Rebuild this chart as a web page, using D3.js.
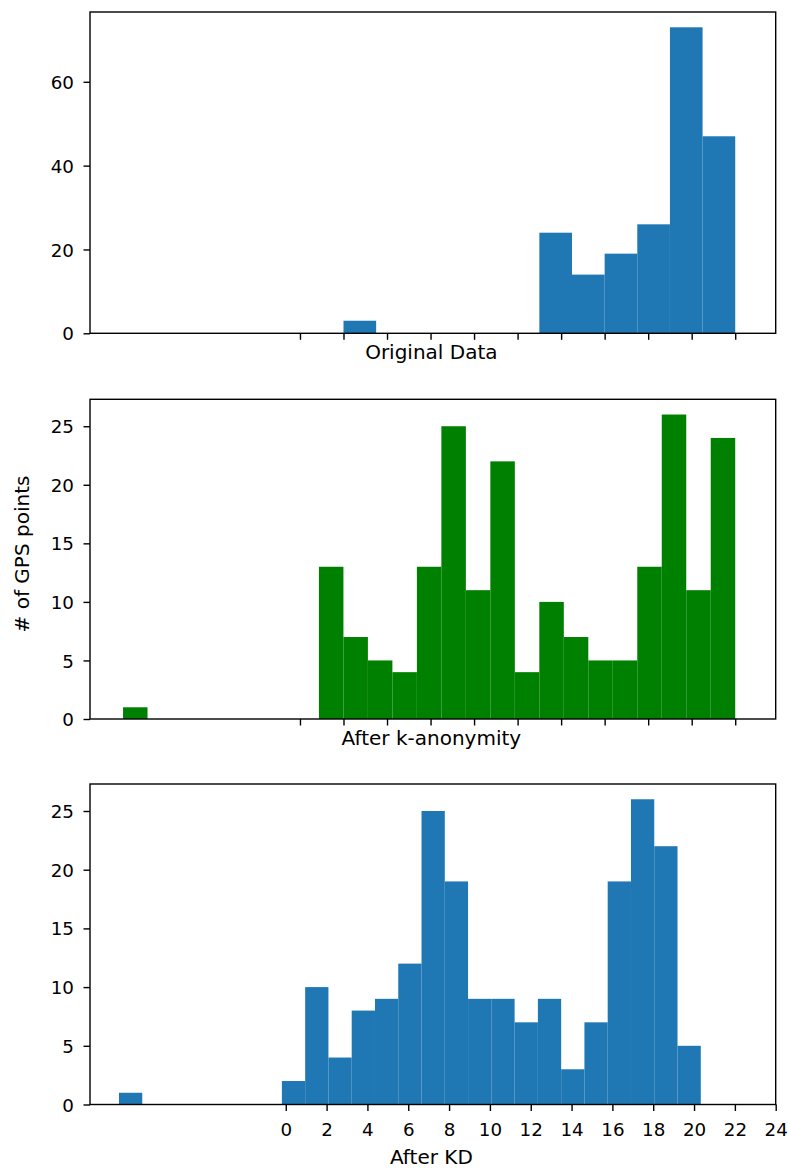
<!DOCTYPE html>
<html><head><meta charset="utf-8">
<script src="https://cdn.jsdelivr.net/npm/d3@7"></script>
<style>body{margin:0;background:#fff} text{font-family:"DejaVu Sans",sans-serif}</style>
</head><body><svg id="c" width="788" height="1169" xmlns="http://www.w3.org/2000/svg"></svg>
<script>
// ---- data ----
const originalCounts = [3,0,0,0,0,0,24,14,19,26,73,47];
const originalRange = [2, 20];
const kanonCounts = [1,0,0,0,0,0,0,0,13,7,5,4,13,25,11,22,4,10,7,5,5,13,26,11,24];
const kanonRange = [-8.13, 20];
const kdCounts = [1,0,0,0,0,0,0,2,10,4,8,9,12,25,19,9,9,7,9,3,7,19,26,22,5];
const kdRange = [-8.17, 20.33];
const sharedXTicks = [0,2,4,6,8,10,12,14,16,18,20];
const kdXTicks = [0,2,4,6,8,10,12,14,16,18,20,22,24];
const originalYTicks = [0,20,40,60];
const countYTicks = [0,5,10,15,20,25];
const panelLabels = ["Original Data", "After k-anonymity", "After KD"];
const yLabel = "# of GPS points";

// ---- layout ----
const FS = 18.3, LFS = 20;
const L = 90, R = 775.7;
const panels = [
  {counts: originalCounts, range: originalRange, color: "#1f77b4", xDomain: [-9.648, 21.86], xTicks: sharedXTicks, showX: false,
   yDomain: [0, 76.65], yTicks: originalYTicks, label: panelLabels[0], top: 12, bottom: 333.3, labelY: 359.3},
  {counts: kanonCounts, range: kanonRange, color: "#008000", xDomain: [-9.648, 21.86], xTicks: sharedXTicks, showX: false,
   yDomain: [0, 27.3], yTicks: countYTicks, label: panelLabels[1], top: 399.3, bottom: 719, labelY: 744.5},
  {counts: kdCounts, range: kdRange, color: "#1f77b4", xDomain: [-9.59, 24], xTicks: kdXTicks, showX: true,
   yDomain: [0, 27.3], yTicks: countYTicks, label: panelLabels[2], top: 784, bottom: 1104.5, labelY: 1164}
];

const svg = d3.select("#c");

panels.forEach(p => {
  const x = d3.scaleLinear().domain(p.xDomain).range([L, R]);
  const y = d3.scaleLinear().domain(p.yDomain).range([p.bottom, p.top]);
  const n = p.counts.length;
  const w = (p.range[1] - p.range[0]) / n;
  const bins = p.counts.map((c, i) => ({c, x0: p.range[0] + i * w, x1: p.range[0] + (i + 1) * w})).filter(b => b.c > 0);

  const g = svg.append("g");
  g.selectAll("rect.bar").data(bins).enter().append("rect")
    .attr("class", "bar")
    .attr("x", d => x(d.x0)).attr("width", d => x(d.x1) - x(d.x0))
    .attr("y", d => y(d.c)).attr("height", d => y(0) - y(d.c))
    .attr("fill", p.color);

  const xa = d3.axisBottom(x).tickValues(p.xTicks).tickSize(6.5).tickPadding(12.2)
    .tickFormat(p.showX ? d3.format("d") : () => "");
  const gx = g.append("g").attr("transform", `translate(0,${p.bottom})`).call(xa);
  const ya = d3.axisLeft(y).tickValues(p.yTicks).tickSize(6.5).tickPadding(9.5).tickFormat(d3.format("d"));
  const gy = g.append("g").attr("transform", `translate(${L},0)`).call(ya);
  [gx, gy].forEach(a => {
    a.select(".domain").remove();
    a.selectAll("line").attr("stroke", "#000").attr("stroke-width", 1.4);
    a.selectAll("text").attr("fill", "#000").style("font-size", FS + "px").style("font-family", "DejaVu Sans");
  });
  gy.selectAll("text").attr("dy", "0.36em");

  g.append("rect").attr("x", L).attr("y", p.top).attr("width", R - L).attr("height", p.bottom - p.top)
    .attr("fill", "none").attr("stroke", "#000").attr("stroke-width", 1.4);

  g.append("text").attr("x", (L + R) / 2 - 1.5).attr("y", p.labelY).attr("text-anchor", "middle")
    .style("font-size", LFS + "px").attr("fill", "#000").text(p.label);
});

svg.append("text").attr("transform", "translate(29,554) rotate(-90)").attr("text-anchor", "middle")
  .style("font-size", LFS + "px").attr("fill", "#000").text(yLabel);
</script></body></html>
